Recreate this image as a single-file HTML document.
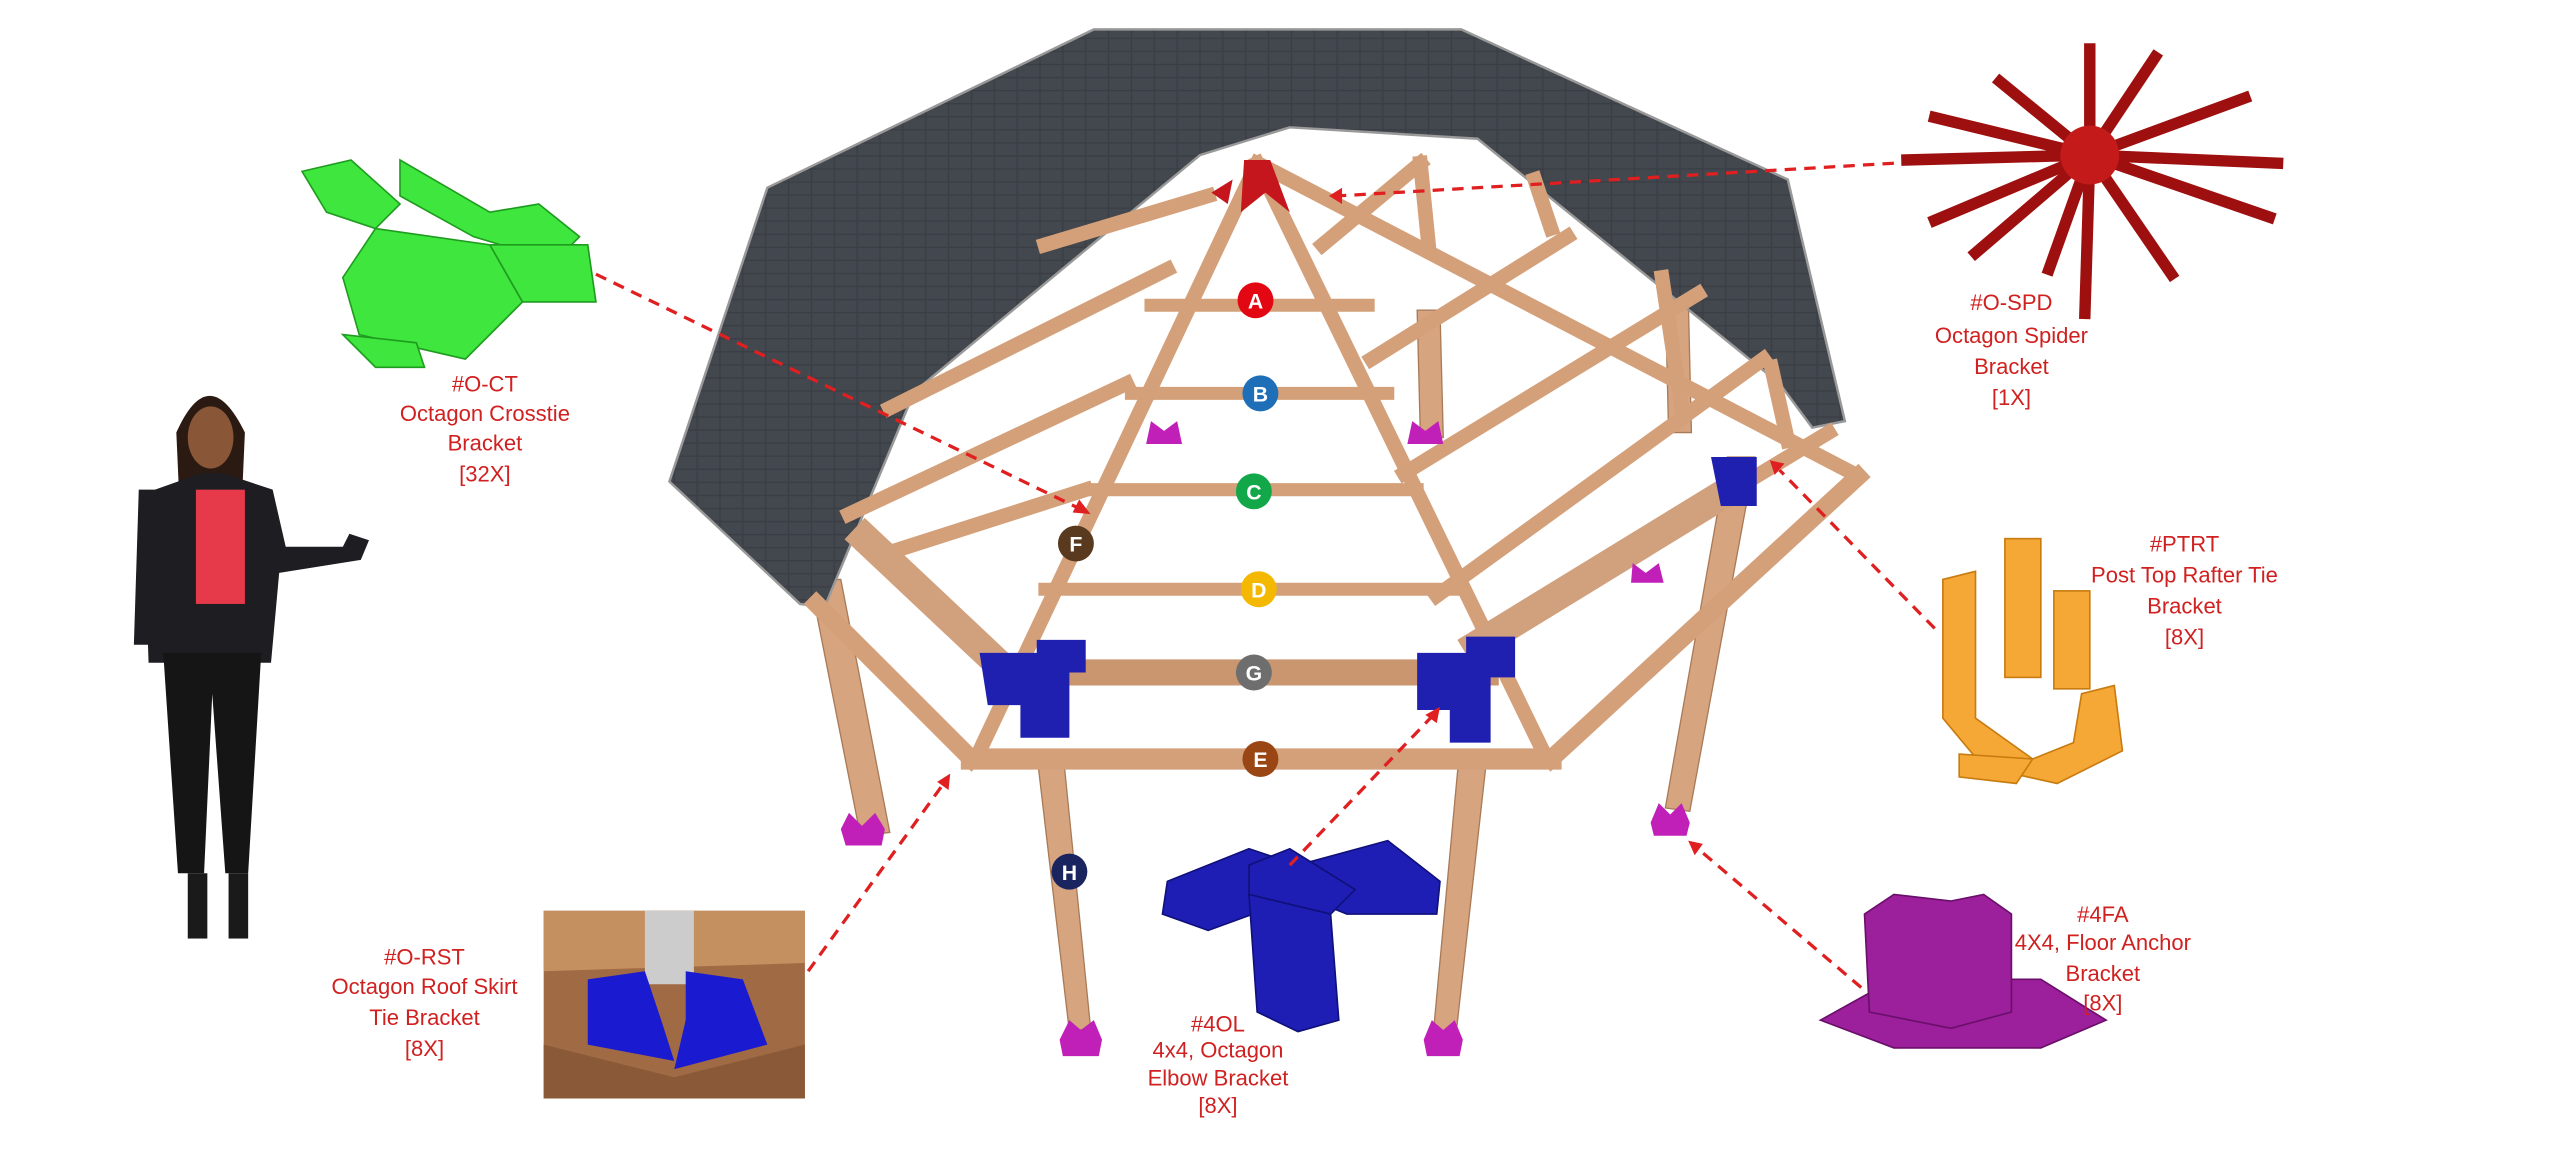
<!DOCTYPE html>
<html><head><meta charset="utf-8"><style>
html,body{margin:0;padding:0;background:#fff;}
svg{display:block;}
text{font-family:"Liberation Sans",sans-serif;}
</style></head><body>
<svg width="2560" height="1154" viewBox="0 0 1568 707" preserveAspectRatio="none" xmlns="http://www.w3.org/2000/svg">
<defs>
<pattern id="sh" width="14" height="8" patternUnits="userSpaceOnUse"><rect width="14" height="8" fill="#43474e"/><path d="M0 7.5H14M7 0V7.5" stroke="#3a3e44" stroke-width="0.8"/></pattern>
</defs>
<!-- posts back -->
<g stroke="#a87a58" stroke-width="0.8" fill="#d6a47f">
<polygon points="496,355 515,355 545,510 527,512"/>
<polygon points="868,190 882,190 884,268 870,268"/>
<polygon points="1020,180 1034,180 1036,265 1022,265"/>
<polygon points="1058,280 1075,280 1035,497 1020,495"/>
<polygon points="636,470 652,470 668,630 655,632"/>
<polygon points="893,470 910,470 892,632 878,632"/>
</g>
<!-- roof -->
<polygon points="410,295 470,115 670,18 895,18 1095,110 1130,258 1110,262 1090,235 905,85 790,78 735,95 560,240 505,372 490,370" fill="url(#sh)" stroke="#999" stroke-width="1.5"/>
<!-- frame beams -->
<g stroke="#d4a07a" stroke-linecap="square" fill="none">
<g stroke-width="9">
<line x1="770" y1="100" x2="600" y2="460"/>
<line x1="770" y1="100" x2="945" y2="460"/>
<line x1="780" y1="105" x2="1135" y2="290"/>
<line x1="740" y1="120" x2="640" y2="150"/>
<line x1="715" y1="165" x2="545" y2="250"/>
<line x1="690" y1="235" x2="520" y2="315"/>
<line x1="665" y1="300" x2="540" y2="340"/>
<line x1="810" y1="150" x2="870" y2="100"/>
<line x1="840" y1="220" x2="960" y2="145"/>
<line x1="860" y1="290" x2="1040" y2="180"/>
<line x1="880" y1="365" x2="1080" y2="220"/>
<line x1="905" y1="395" x2="1120" y2="265"/>
<line x1="870" y1="100" x2="875" y2="150"/>
<line x1="940" y1="110" x2="950" y2="140"/>
<line x1="1018" y1="170" x2="1030" y2="250"/>
<line x1="1085" y1="225" x2="1095" y2="270"/>
</g>
<g stroke-width="8">
<line x1="705" y1="187" x2="838" y2="187"/>
<line x1="693" y1="241" x2="850" y2="241"/>
<line x1="668" y1="300" x2="868" y2="300"/>
<line x1="640" y1="361" x2="890" y2="361"/>
</g>
<line x1="620" y1="412" x2="910" y2="412" stroke-width="16" stroke="#c99670"/>
<line x1="595" y1="465" x2="950" y2="465" stroke-width="13"/>
<line x1="950" y1="465" x2="1138" y2="292" stroke-width="11"/>
<line x1="595" y1="465" x2="500" y2="370" stroke-width="11"/>
<line x1="905" y1="395" x2="1060" y2="300" stroke-width="18" stroke="#d1a07c"/>
<line x1="615" y1="410" x2="530" y2="330" stroke-width="18" stroke="#d1a07c"/>
</g>
<polygon points="762,98 778,98 790,130 775,118 760,130" fill="#c4161c"/>
<polygon points="742,118 755,110 752,125" fill="#c4161c"/>
<g fill="#1f1fb0">
<path d="M600,400 h35 v-8 h30 v20 h-10 v40 h-30 v-20 h-20 z"/>
<path d="M868,400 h30 v-10 h30 v25 h-15 v40 h-25 v-20 h-20 z"/>
<path d="M1048,280 h28 v30 h-22 z"/>
</g>
<g fill="#c020b8">
<path d="M520,498 l8,8 8,-8 6,10 -2,10 -22,0 -3,-10 z"/>
<path d="M1016,492 l7,7 7,-7 5,12 -2,8 -20,0 -2,-8 z"/>
<path d="M655,625 l7,6 8,-6 5,12 -2,10 -22,0 -2,-10 z"/>
<path d="M877,625 l7,6 7,-6 5,12 -2,10 -20,0 -2,-10 z"/>
<path d="M1000,345 l8,6 8,-6 3,12 -20,0 z"/>
<path d="M865,258 l8,6 8,-6 3,14 -22,0 z"/>
<path d="M705,258 l8,6 8,-6 3,14 -22,0 z"/>
</g>
<g font-size="13" text-anchor="middle" fill="#fff" font-weight="bold">
<circle cx="769" cy="184" r="11" fill="#e30613"/><text x="769" y="189">A</text>
<circle cx="772" cy="241" r="11" fill="#1f6fb8"/><text x="772" y="246">B</text>
<circle cx="768" cy="301" r="11" fill="#12a84a"/><text x="768" y="306">C</text>
<circle cx="771" cy="361" r="11" fill="#f4b800"/><text x="771" y="366">D</text>
<circle cx="768" cy="412" r="11" fill="#6e6e6e"/><text x="768" y="417">G</text>
<circle cx="772" cy="465" r="11" fill="#9a4514"/><text x="772" y="470">E</text>
<circle cx="659" cy="333" r="11" fill="#5a3a1e"/><text x="659" y="338">F</text>
<circle cx="655" cy="534" r="11" fill="#1a2560"/><text x="655" y="539">H</text>
</g>
<!-- green crosstie -->
<g fill="#3ee63e" stroke="#1f9c1f" stroke-width="1">
<polygon points="185,105 215,98 245,125 230,140 200,130"/>
<polygon points="245,98 300,130 330,125 355,145 340,160 290,145 245,120"/>
<polygon points="300,150 360,150 365,185 320,185"/>
<polygon points="230,140 300,150 320,185 285,220 220,205 210,170"/>
<polygon points="210,205 230,225 260,225 255,210"/>
</g>
<!-- red spider -->
<g stroke="#9e1010" stroke-width="7" stroke-linecap="square">
<line x1="1280" y1="95" x2="1168" y2="98"/><line x1="1280" y1="95" x2="1185" y2="135"/>
<line x1="1280" y1="95" x2="1210" y2="155"/><line x1="1280" y1="95" x2="1255" y2="165"/>
<line x1="1280" y1="95" x2="1277" y2="192"/><line x1="1280" y1="95" x2="1330" y2="168"/>
<line x1="1280" y1="95" x2="1390" y2="133"/><line x1="1280" y1="95" x2="1395" y2="100"/>
<line x1="1280" y1="95" x2="1375" y2="60"/><line x1="1280" y1="95" x2="1320" y2="35"/>
<line x1="1280" y1="95" x2="1280" y2="30"/><line x1="1280" y1="95" x2="1225" y2="50"/>
<line x1="1280" y1="95" x2="1185" y2="72"/>
</g>
<circle cx="1280" cy="95" r="18" fill="#c41a1a"/>
<!-- orange PTRT -->
<g fill="#f5a836" stroke="#c87c10" stroke-width="1">
<polygon points="1190,355 1210,350 1210,440 1245,465 1270,455 1275,425 1295,420 1300,460 1260,480 1215,470 1190,440"/>
<rect x="1228" y="330" width="22" height="85"/>
<rect x="1258" y="362" width="22" height="60"/>
<polygon points="1200,462 1245,465 1235,480 1200,476"/>
</g>
<!-- purple floor anchor -->
<g fill="#9c1f9c" stroke="#6a0f6a" stroke-width="1">
<polygon points="1115,625 1160,600 1250,600 1290,625 1250,642 1160,642"/>
<polygon points="1142,560 1160,548 1195,552 1215,548 1232,560 1232,620 1195,630 1145,620"/>
</g>
<!-- blue elbow bracket -->
<g fill="#1e1eb5" stroke="#10107a" stroke-width="1">
<polygon points="715,540 765,520 795,530 795,550 740,570 712,560"/>
<polygon points="795,530 850,515 882,540 880,560 825,560 800,550"/>
<polygon points="765,530 790,520 830,545 815,560 790,555 765,548"/>
<polygon points="765,548 815,560 820,625 795,632 770,620"/>
</g>
<!-- photo inset -->
<rect x="333" y="558" width="160" height="115" fill="#a06a44"/>
<polygon points="333,558 493,558 493,590 333,595" fill="#c59060"/>
<polygon points="333,640 413,660 493,640 493,673 333,673" fill="#8a5a38"/>
<rect x="395" y="558" width="30" height="45" fill="#ccc"/>
<polygon points="360,600 395,595 405,625 413,650 360,640" fill="#1a1ad0"/>
<polygon points="420,595 455,600 470,640 413,655 420,625" fill="#1a1ad0"/>
<!-- person -->
<g>
<path d="M108,265 q20,-45 42,0 l-2,45 -38,0z" fill="#2a1a12"/>
<ellipse cx="129" cy="268" rx="14" ry="19" fill="#8a5638"/>
<path d="M95,300 l28,-10 h14 l30,10 8,35 h35 l4,-8 12,4 -5,12 -50,8 -5,55 h-75 l-2,-60z" fill="#1d1d22"/>
<rect x="120" y="300" width="30" height="70" fill="#e63a4a"/>
<path d="M85,300 l12,0 -3,95 -12,0z" fill="#1d1d22"/>
<path d="M100,400 h60 l-8,135 h-14 l-8,-110 -5,110 h-16z" fill="#151515"/>
<rect x="115" y="535" width="12" height="40" fill="#1a1a1a"/>
<rect x="140" y="535" width="12" height="40" fill="#1a1a1a"/>
</g>
<!-- dashed arrows -->
<g stroke="#e02020" stroke-width="2" stroke-dasharray="7,5" fill="none">
<line x1="365" y1="168" x2="662" y2="312"/>
<line x1="1160" y1="100" x2="820" y2="120"/>
<line x1="1185" y1="385" x2="1090" y2="288"/>
<line x1="1140" y1="605" x2="1040" y2="520"/>
<line x1="790" y1="530" x2="878" y2="438"/>
<line x1="495" y1="595" x2="578" y2="480"/>
</g>
<g fill="#e02020">
<polygon points="668,315 657,314 661,306"/>
<polygon points="814,120 822,115 822,125"/>
<polygon points="1084,282 1093,284 1087,291"/>
<polygon points="1034,515 1043,517 1038,524"/>
<polygon points="882,433 880,443 873,438"/>
<polygon points="582,474 581,484 574,479"/>
</g>
<g font-size="13.5" fill="#d02020" text-anchor="middle">
<text x="297" y="240">#O-CT</text><text x="297" y="258">Octagon Crosstie</text><text x="297" y="276">Bracket</text><text x="297" y="295">[32X]</text>
<text x="1232" y="190">#O-SPD</text><text x="1232" y="210">Octagon Spider</text><text x="1232" y="229">Bracket</text><text x="1232" y="248">[1X]</text>
<text x="1338" y="338">#PTRT</text><text x="1338" y="357">Post Top Rafter Tie</text><text x="1338" y="376">Bracket</text><text x="1338" y="395">[8X]</text>
<text x="1288" y="565">#4FA</text><text x="1288" y="582">4X4, Floor Anchor</text><text x="1288" y="601">Bracket</text><text x="1288" y="619">[8X]</text>
<text x="746" y="632">#4OL</text><text x="746" y="648">4x4, Octagon</text><text x="746" y="665">Elbow Bracket</text><text x="746" y="682">[8X]</text>
<text x="260" y="591">#O-RST</text><text x="260" y="609">Octagon Roof Skirt</text><text x="260" y="628">Tie Bracket</text><text x="260" y="647">[8X]</text>
</g>
</svg>
</body></html>
